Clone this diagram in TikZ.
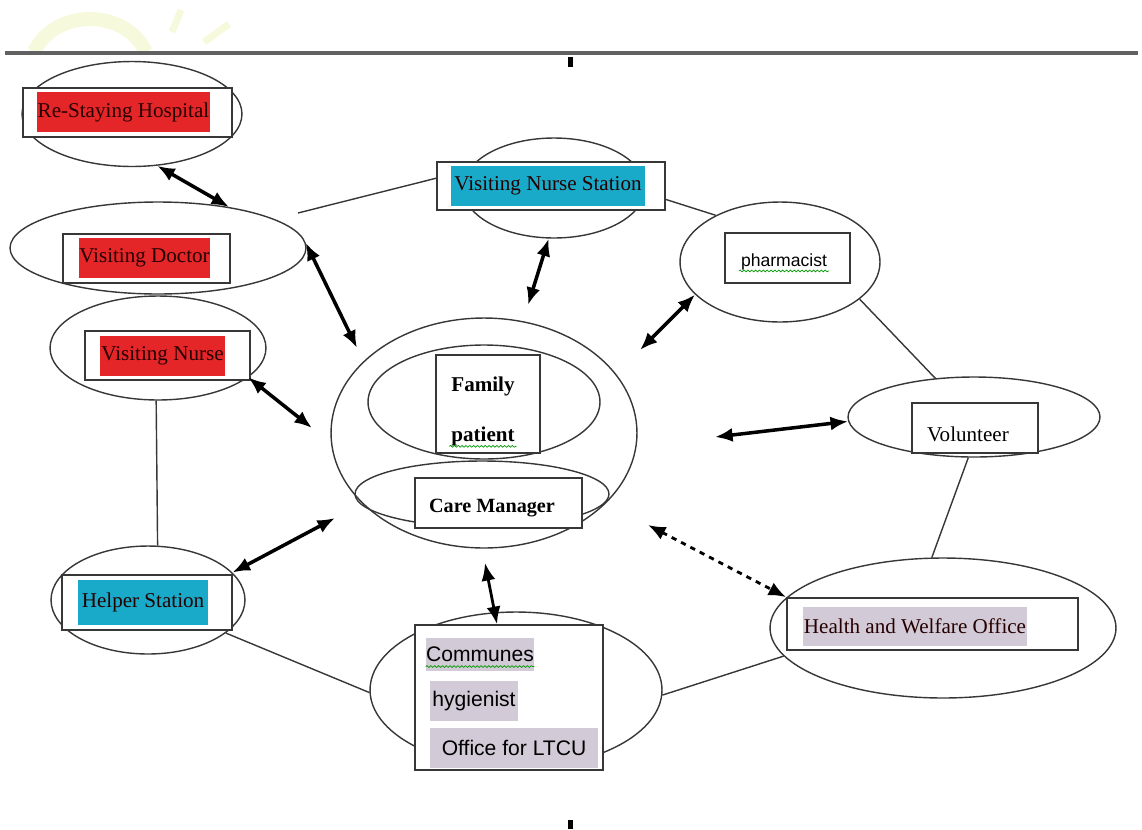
\documentclass[tikz,border=0pt]{standalone}
\usepackage{fontspec}
\setmainfont{Liberation Serif}
\setsansfont{Liberation Sans}
\usepackage{tikz}
\usetikzlibrary{shapes.geometric,arrows.meta,positioning,decorations.pathmorphing}

\definecolor{hlred}{RGB}{228,38,40}
\definecolor{hlcyan}{RGB}{24,170,200}
\definecolor{hllilac}{RGB}{210,202,214}
\definecolor{linegray}{RGB}{55,55,55}
\definecolor{logoyellow}{RGB}{247,249,220}

\begin{document}
\begin{tikzpicture}[x=0.02cm,y=-0.02cm,
	ell/.style={draw=linegray,line width=0.8pt,ellipse,inner sep=0pt},
	box/.style={draw=linegray,line width=1pt,rectangle,fill=white,inner sep=0pt},
	hl/.style={fill=#1,inner sep=0pt,text=black!85!red,font=\fontsize{12}{14}\selectfont},
	txt/.style={inner sep=1pt,font=\fontsize{12}{14}\selectfont},
	link/.style={draw=linegray,line width=0.8pt},
	arr/.style={{Latex[length=10pt,width=8pt]}-{Latex[length=10pt,width=8pt]},line width=2pt},
	wavy/.style={decorate,decoration={snake,amplitude=0.5pt,segment length=2.2pt},green!60!black,line width=0.4pt}]
	\useasboundingbox (0,0) rectangle (1142,829);
	% faint logo and page rule
	\draw[logoyellow,line width=8pt] (34,52) .. controls (55,8) and (125,8) .. (146,52);
	\draw[logoyellow,line width=4pt] (172,32) -- (181,10);
	\draw[logoyellow,line width=4pt] (204,42) -- (229,24);
	\draw[black!62,line width=2.6pt] (5,53) -- (1138,53);
	\fill[black] (568,57) rectangle (573,67);
	\fill[black] (568,820) rectangle (573,829);
	% ellipses
	\node[ell,minimum width=4.4cm,minimum height=2.1cm] (hospE) at (132,114) {};
	\node[ell,minimum width=5.92cm,minimum height=1.84cm] (doctorE) at (158,248) {};
	\node[ell,minimum width=4.32cm,minimum height=2.08cm] (nurseE) at (158,348) {};
	\node[ell,minimum width=3.64cm,minimum height=2cm] (vnsE) at (554,188) {};
	\node[ell,minimum width=4cm,minimum height=2.4cm] (pharmE) at (780,262) {};
	\node[ell,minimum width=5.04cm,minimum height=1.6cm] (volE) at (974,417) {};
	\node[ell,minimum width=6.92cm,minimum height=2.8cm] (hwE) at (943,628) {};
	\node[ell,minimum width=6.12cm,minimum height=4.6cm] (centreE) at (484,433) {};
	\node[ell,minimum width=4.64cm,minimum height=2.28cm] (familyE) at (484,402) {};
	\node[ell,minimum width=5.08cm,minimum height=1.32cm] (careE) at (482,494) {};
	\node[ell,minimum width=3.88cm,minimum height=2.16cm] (helperE) at (148,600) {};
	\node[ell,minimum width=5.84cm,minimum height=3.12cm] (commE) at (516,690) {};
	% plain links
	\coordinate (docTop) at (298,213);
	\draw[link] (docTop) -- (437,178) coordinate (vnsIn);
	\draw[link] (655,196) -- (pharmE.144);
	\draw[link] (pharmE.-25) -- (volE.135);
	\draw[link] (volE.-98) -- (hwE.99);
	\draw[link] (hwE.190) -- (commE.-2);
	\draw[link] (helperE.-23) -- (commE.181);
	\draw[link] (nurseE.-92) -- (helperE.80);
	% boxes
	\node[box,minimum width=4.18cm,minimum height=0.98cm] (hospB) at (127.5,112.5) {};
	\node[box,minimum width=3.34cm,minimum height=0.98cm] (doctorB) at (146.5,258.5) {};
	\node[box,minimum width=3.3cm,minimum height=0.98cm] (nurseB) at (167.5,355.5) {};
	\node[box,minimum width=4.56cm,minimum height=0.96cm] (vnsB) at (551,186) {};
	\node[box,minimum width=2.5cm,minimum height=1cm] (pharmB) at (787.5,258) {};
	\node[box,minimum width=2.52cm,minimum height=1cm] (volB) at (975,428) {};
	\node[box,minimum width=5.82cm,minimum height=1.04cm] (hwB) at (932.5,624) {};
	\node[box,minimum width=2.08cm,minimum height=1.96cm] (familyB) at (488,404) {};
	\node[box,minimum width=3.34cm,minimum height=1cm] (careB) at (498.5,503) {};
	\node[box,minimum width=3.4cm,minimum height=1.1cm] (helperB) at (147,602.5) {};
	\node[box,minimum width=3.76cm,minimum height=2.9cm] (commB) at (509,697.5) {};
	% labels
	\node[hl=hlred,minimum width=3.46cm,minimum height=0.8cm] (hospT) at (123.5,112) {Re-Staying Hospital};
	\node[hl=hlred,minimum width=2.62cm,minimum height=0.8cm] (doctorT) at (144.5,258) {Visiting Doctor};
	\node[hl=hlred,minimum width=2.5cm,minimum height=0.8cm] (nurseT) at (162.5,356) {Visiting Nurse};
	\node[hl=hlcyan,minimum width=3.88cm,minimum height=0.8cm] (vnsT) at (548,186) {Visiting Nurse Station};
	\node[hl=hlcyan,minimum width=2.6cm,minimum height=0.9cm] (helperT) at (143,602.5) {Helper Station};
	\node[hl=hllilac,minimum width=4.48cm,minimum height=0.78cm] (hwT) at (915,626) {Health and Welfare Office};
	\node[txt,font=\sffamily\fontsize{10}{12}\selectfont] (pharmT) at (784,262) {pharmacist};
	\node[txt] (volT) at (968,434) {Volunteer};
	\node[txt,font=\bfseries\fontsize{12}{14}\selectfont] (familyT) at (483,386) {Family};
	\node[txt,font=\bfseries\fontsize{12}{14}\selectfont] (patientT) at (483,436) {patient};
	\node[txt,font=\bfseries\fontsize{11.5}{14}\selectfont] (careT) at (492,508) {Care Manager};
	\node[hl=hllilac,text=black,font=\sffamily\fontsize{12}{14}\selectfont,minimum width=2cm,minimum height=0.66cm] (commT) at (480,654) {Communes};
	\node[hl=hllilac,text=black,font=\sffamily\fontsize{12}{14}\selectfont,minimum width=1.76cm,minimum height=0.8cm] (hygT) at (474,701) {hygienist};
	\node[hl=hllilac,text=black,font=\sffamily\fontsize{12}{14}\selectfont,minimum width=3.36cm,minimum height=0.8cm] (ltcuT) at (514,748) {Office for LTCU};
	\draw[wavy] ([yshift=-2.5pt]pharmT.base west) -- ([yshift=-2.5pt]pharmT.base east);
	\draw[wavy] ([yshift=-3pt]patientT.base west) -- ([yshift=-3pt]patientT.base east);
	\draw[wavy] ([yshift=-3pt]commT.base west) -- ([yshift=-3pt]commT.base east);
	% arrows to the centre
	\coordinate (docEnd) at (357,348);
	\coordinate (nurseEnd) at (312,428);
	\coordinate (vnsEnd) at (528,305);
	\coordinate (pharmEnd) at (640,350);
	\coordinate (volEnd) at (715,437);
	\coordinate (helperEnd) at (335,518);
	\coordinate (commEnd) at (485,563);
	\coordinate (hwEnd) at (648,525);
	\draw[arr] (hospE.-64) -- (doctorE.30);
	\draw[arr] (doctorE.2) -- (docEnd);
	\draw[arr] (nurseE.-18) -- (nurseEnd);
	\draw[arr] (vnsE.-96) -- (vnsEnd);
	\draw[arr] (pharmE.201) -- (pharmEnd);
	\draw[arr] (volE.182) -- (volEnd);
	\draw[arr] (helperE.18) -- (helperEnd);
	\draw[arr,line width=1.6pt] (commB.north) ++(-12,0) coordinate (commTop) (commTop) -- (commEnd);
	\draw[arr,dashed,line width=1.6pt] (hwEnd) -- (hwB.north west);
\end{tikzpicture}
\end{document}
